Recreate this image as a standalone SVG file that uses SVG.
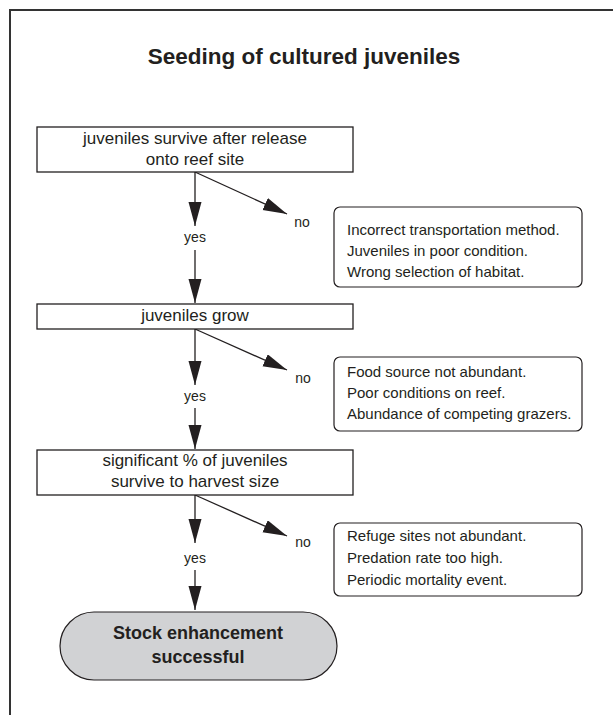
<svg xmlns="http://www.w3.org/2000/svg" width="613" height="715" viewBox="0 0 613 715">
<style>
  text { font-family: "Liberation Sans", Arial, sans-serif; fill: #231f20; }
  .title { font-size: 22.5px; font-weight: bold; text-anchor: middle; }
  .box { fill: #fff; stroke: #231f20; stroke-width: 1.3; }
  .btxt { font-size: 17px; text-anchor: middle; }
  .reason { fill: #fff; stroke: #231f20; stroke-width: 1.2; }
  .rtxt { font-size: 15px; }
  .lbl { font-size: 14px; text-anchor: middle; }
  .conn { stroke: #231f20; stroke-width: 1.3; fill: none; marker-end: url(#ah); }
  .term { fill: #d1d2d4; stroke: #231f20; stroke-width: 1.2; }
  .ttxt { font-size: 18px; font-weight: bold; text-anchor: middle; }
</style>
<defs>
  <marker id="ah" markerUnits="userSpaceOnUse" markerWidth="26" markerHeight="14" refX="24" refY="6.5" orient="auto" viewBox="0 0 26 14">
    <path d="M0,0 L24,6.5 L0,13 Z" fill="#231f20"/>
  </marker>
</defs>
<rect width="613" height="715" fill="#fff"/>
<polyline points="10,715 10,10 613,10" fill="none" stroke="#333" stroke-width="2"/>
<text class="title" x="304" y="64">Seeding of cultured juveniles</text>

<g id="connectors">
  <line class="conn" x1="195" y1="172" x2="195" y2="226"/>
  <line class="conn" x1="195" y1="250" x2="195" y2="303"/>
  <line class="conn" x1="195" y1="172" x2="287" y2="214"/>
  <line class="conn" x1="195" y1="329" x2="195" y2="385"/>
  <line class="conn" x1="195" y1="408" x2="195" y2="449"/>
  <line class="conn" x1="195" y1="329" x2="287" y2="370"/>
  <line class="conn" x1="195" y1="495" x2="195" y2="543"/>
  <line class="conn" x1="195" y1="570" x2="195" y2="610"/>
  <line class="conn" x1="195" y1="495" x2="287" y2="536"/>
  <text class="lbl" x="195" y="242">yes</text>
  <text class="lbl" x="195" y="401">yes</text>
  <text class="lbl" x="195" y="563">yes</text>
  <text class="lbl" x="302" y="227">no</text>
  <text class="lbl" x="303" y="383">no</text>
  <text class="lbl" x="303" y="547">no</text>
</g>

<g id="survive">
  <rect class="box" x="37" y="127" width="316" height="45"/>
  <text class="btxt" x="195" y="144">juveniles survive after release</text>
  <text class="btxt" x="195" y="165">onto reef site</text>
</g>
<g id="grow">
  <rect class="box" x="37" y="304" width="316" height="25"/>
  <text class="btxt" x="195" y="321">juveniles grow</text>
</g>
<g id="harvest">
  <rect class="box" x="37" y="450" width="316" height="45"/>
  <text class="btxt" x="195" y="466">significant % of juveniles</text>
  <text class="btxt" x="195" y="487">survive to harvest size</text>
</g>
<g id="reason1">
  <rect class="reason" x="334" y="207" width="248" height="80" rx="6"/>
  <text class="rtxt" x="347" y="235">Incorrect transportation method.</text>
  <text class="rtxt" x="347" y="256">Juveniles in poor condition.</text>
  <text class="rtxt" x="347" y="277">Wrong selection of habitat.</text>
</g>
<g id="reason2">
  <rect class="reason" x="334" y="357" width="248" height="74" rx="6"/>
  <text class="rtxt" x="347" y="377">Food source not abundant.</text>
  <text class="rtxt" x="347" y="398">Poor conditions on reef.</text>
  <text class="rtxt" x="347" y="419">Abundance of competing grazers.</text>
</g>
<g id="reason3">
  <rect class="reason" x="334" y="523" width="248" height="73" rx="6"/>
  <text class="rtxt" x="347" y="541">Refuge sites not abundant.</text>
  <text class="rtxt" x="347" y="563">Predation rate too high.</text>
  <text class="rtxt" x="347" y="585">Periodic mortality event.</text>
</g>
<g id="success">
  <rect class="term" x="60" y="612" width="277" height="68" rx="34"/>
  <text class="ttxt" x="198" y="639">Stock enhancement</text>
  <text class="ttxt" x="198" y="663">successful</text>
</g>
</svg>
